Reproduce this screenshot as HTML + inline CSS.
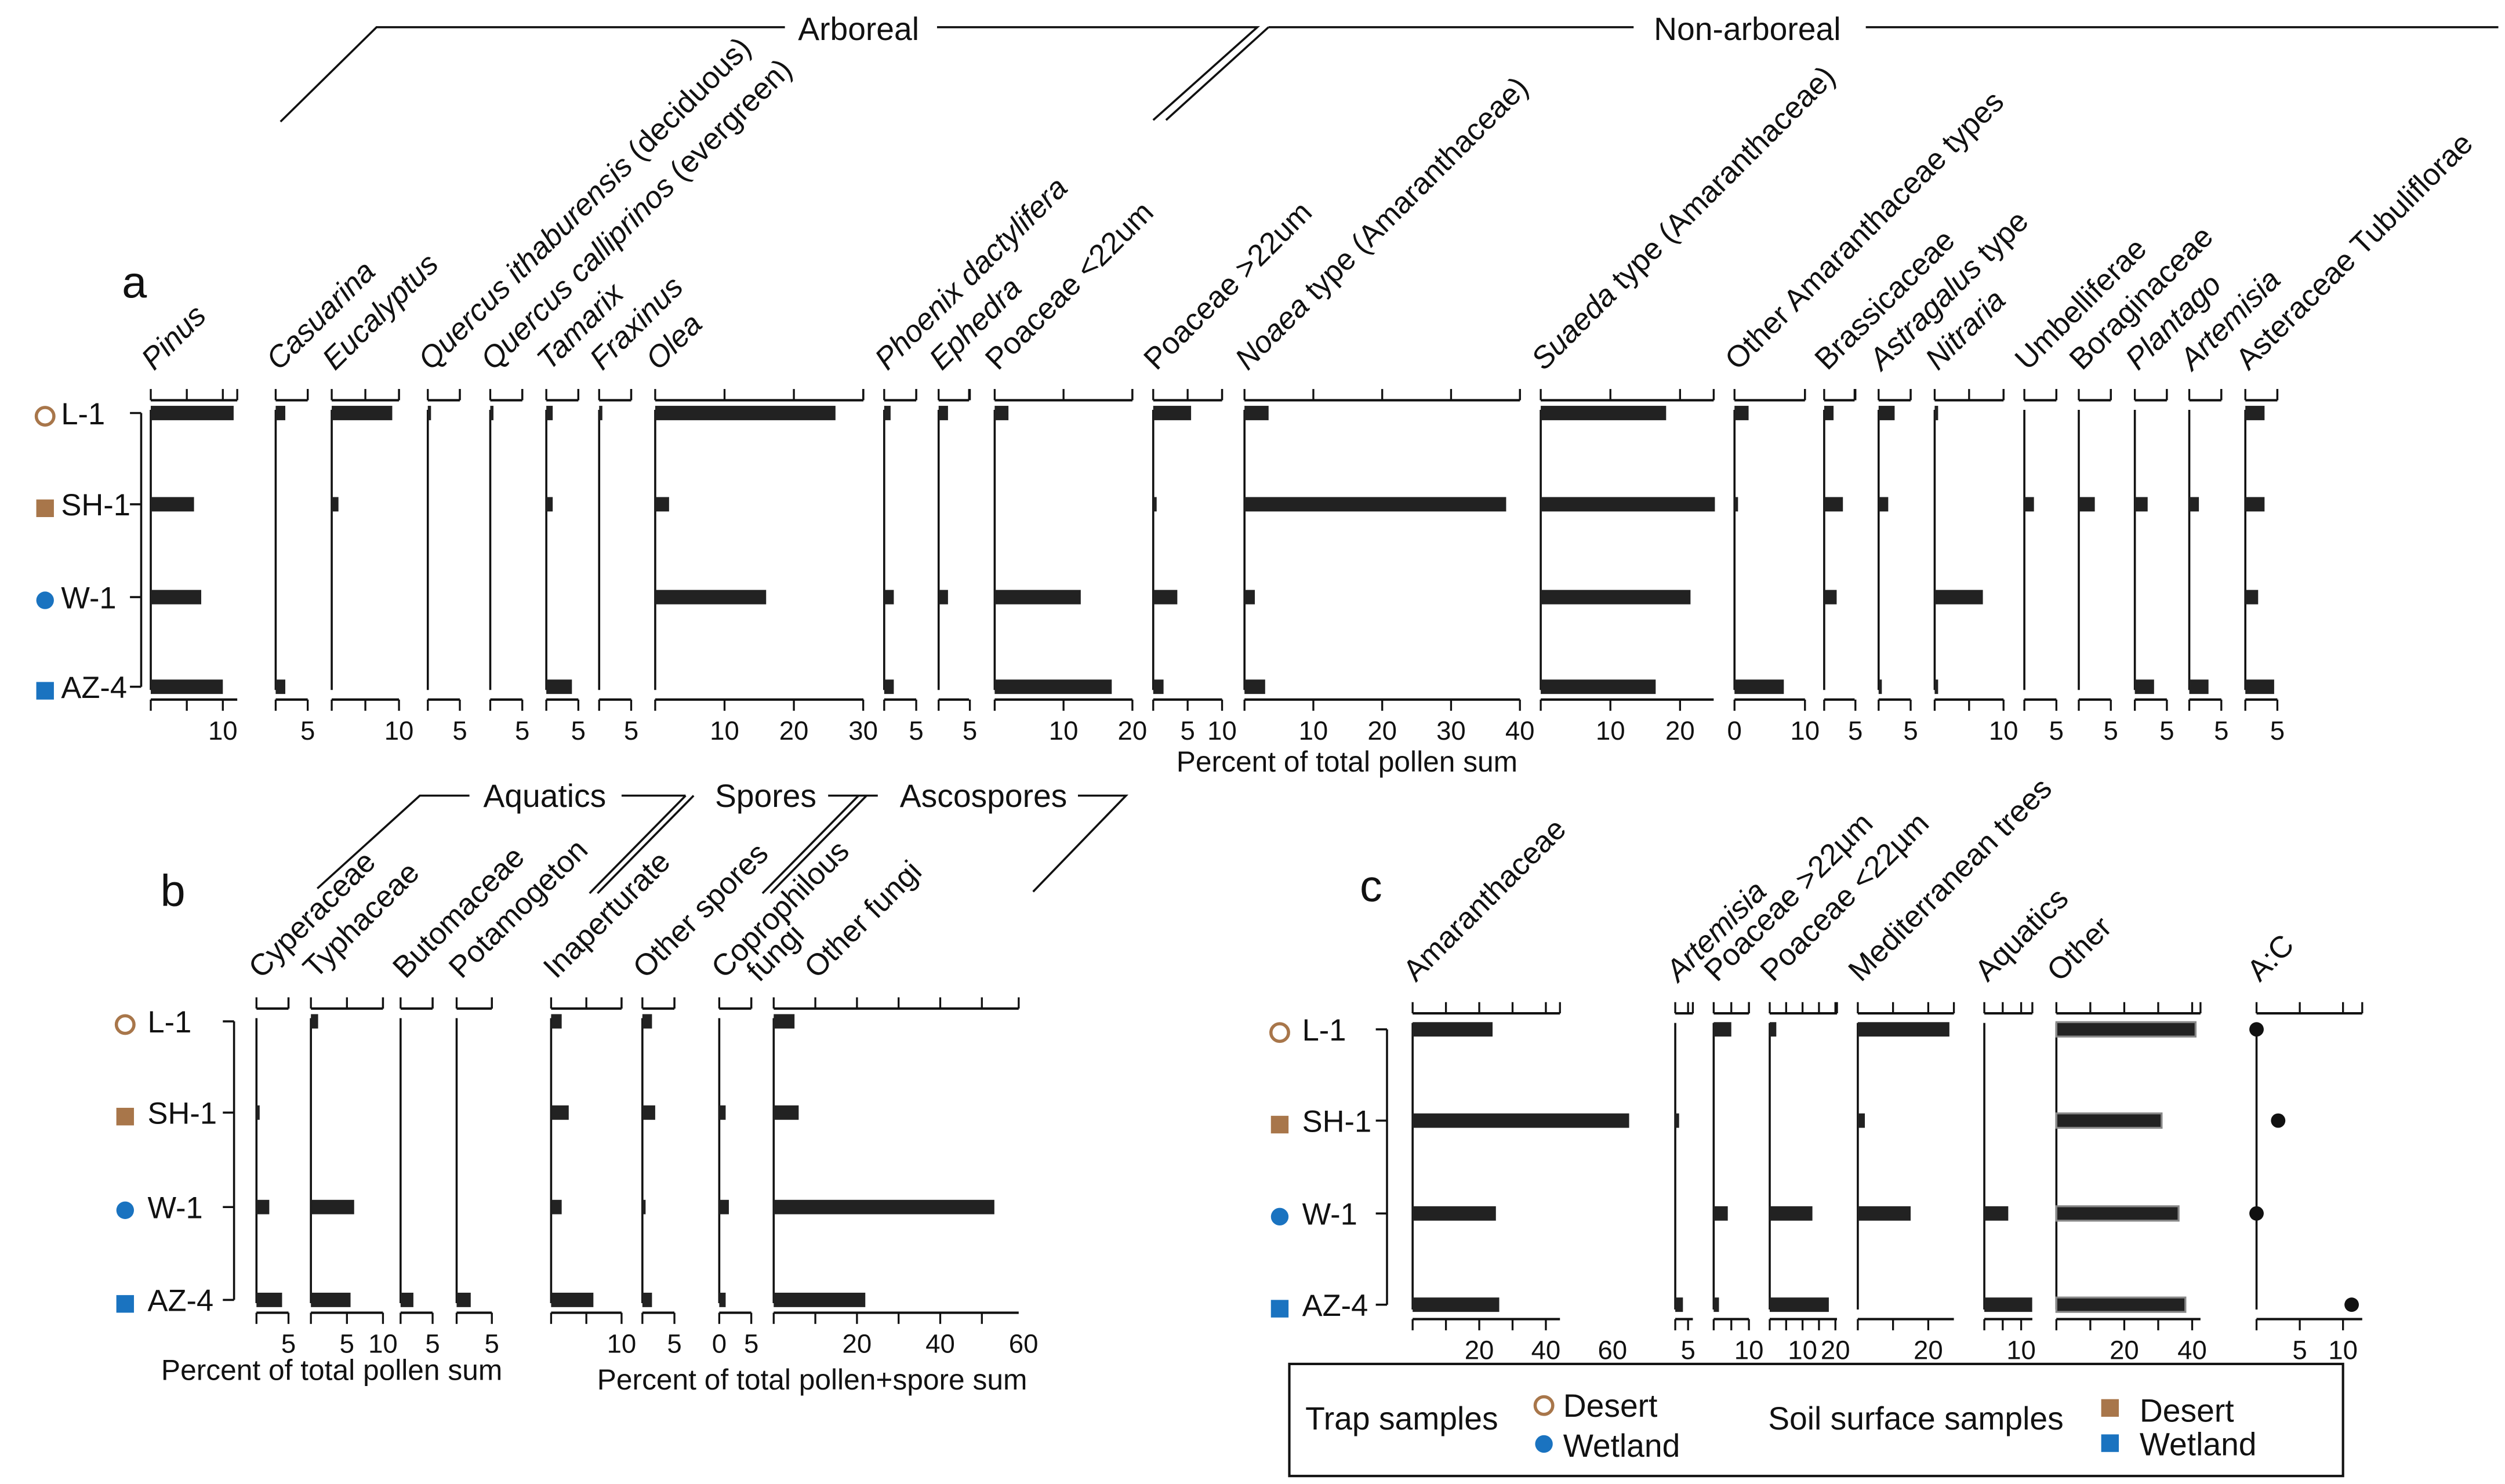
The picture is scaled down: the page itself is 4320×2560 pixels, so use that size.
<!DOCTYPE html>
<html><head><meta charset="utf-8"><style>
html,body{margin:0;padding:0;background:#fff}
svg{display:block}
text{font-family:"Liberation Sans",Arial,sans-serif;fill:#111}
</style></head><body>
<svg id="chart" xmlns="http://www.w3.org/2000/svg" width="4320" height="2560" viewBox="0 0 1564 927">
<g id="static" stroke="#111" stroke-width="1.3" fill="none">
<polyline points="175,76 235,17 490,17"/>
<polyline points="585,17 785,17 720,75"/>
<line x1="792" y1="17" x2="728" y2="75"/>
<polyline points="792,17 1020,17"/>
<line x1="1165" y1="17" x2="1560" y2="17"/>
<polyline points="198,555 262,497 293,497"/>
<line x1="388" y1="497" x2="428" y2="497"/>
<line x1="517" y1="497" x2="548" y2="497"/>
<line x1="368" y1="558" x2="428" y2="497"/><line x1="373" y1="558" x2="433" y2="497"/>
<line x1="476" y1="558" x2="536" y2="497"/><line x1="481" y1="558" x2="541" y2="497"/>
<polyline points="673,497 703,497 645,557"/>
<rect x="805" y="852" width="658" height="70" stroke-width="1.5"/>
</g>
<g>
<text x="536" y="25" font-size="20" text-anchor="middle">Arboreal</text>
<text x="1091" y="25" font-size="20" text-anchor="middle">Non-arboreal</text>
<text x="340" y="504" font-size="20" text-anchor="middle">Aquatics</text>
<text x="478" y="504" font-size="20" text-anchor="middle">Spores</text>
<text x="614" y="504" font-size="20" text-anchor="middle">Ascospores</text>
<text x="76" y="186" font-size="28">a</text>
<text x="100" y="566" font-size="28">b</text>
<text x="849" y="563" font-size="28">c</text>
<text x="841" y="482" font-size="18" text-anchor="middle">Percent of total pollen sum</text>
<text x="207" y="862" font-size="18" text-anchor="middle">Percent of total pollen sum</text>
<text x="507" y="868" font-size="18" text-anchor="middle">Percent of total pollen+spore sum</text>
</g>
<g>
<text x="815" y="893" font-size="20">Trap samples</text>
<circle cx="964" cy="878" r="5.5" fill="none" stroke="#a8764a" stroke-width="2"/>
<text x="976" y="885" font-size="20">Desert</text>
<circle cx="964" cy="902" r="5.5" fill="#1a73c0"/>
<text x="976" y="910" font-size="20">Wetland</text>
<text x="1104" y="893" font-size="20">Soil surface samples</text>
<rect x="1312" y="874" width="11" height="11" fill="#a8764a"/>
<text x="1336" y="888" font-size="20">Desert</text>
<rect x="1312" y="896" width="11" height="11" fill="#1a73c0"/>
<text x="1336" y="909" font-size="20">Wetland</text>
</g>
<g id="dyn"></g>
</svg>
<script>
const samples = ["L-1","SH-1","W-1","AZ-4"];
// Panel a
const aTaxa = ["Pinus","Casuarina","Eucalyptus","Quercus ithaburensis (deciduous)","Quercus calliprinos (evergreen)","Tamarix","Fraxinus","Olea","Phoenix dactylifera","Ephedra","Poaceae <22um","Poaceae >22um","Noaea type (Amaranthaceae)","Suaeda type (Amaranthaceae)","Other Amaranthaceae types","Brassicaceae","Astragalus type","Nitraria","Umbelliferae","Boraginaceae","Plantago","Artemisia","Asteraceae Tubuliflorae"];
const aL1 = [11.5,1.5,9,0.5,0.5,1,0.5,26,1,1.5,2,5.5,3.5,18,2,1.5,2.5,0.5,0,0,0,0,3];
const aSH1 = [6,0,1,0,0,1,0,2,0,0,0,0.5,38,25,0.5,3,1.5,0,1.5,2.5,2,1.5,3];
const aW1 = [7,0,0,0,0,0,0,16,1.5,1.5,12.5,3.5,1.5,21.5,0,2,0,7,0,0,0,0,2];
const aAZ4 = [10,1.5,0,0,0,4,0,0,1.5,0,17,1.5,3,16.5,7,0,0.5,0.5,0,0,3,3,4.5];
const aTickLabels = [[10],[5],[10],[5],[5],[5],[5],[10,20,30],[5],[5],[10,20],[5,10],[10,20,30,40],[10,20],[0,10],[5],[5],[10],[5],[5],[5],[5],[5]];
// Panel b
const bTaxa = ["Cyperaceae","Typhaceae","Butomaceae","Potamogeton","Inaperturate","Other spores","Coprophilous|fungi","Other fungi"];
const bL1 = [0,1,0,0,1.5,1.5,0,5];
const bSH1 = [0.5,0,0,0,2.5,2,1,6];
const bW1 = [2,6,0,0,1.5,0.5,1.5,53];
const bAZ4 = [4,5.5,2,2,6,1.5,1,22];
const bTickLabels = [[5],[5,10],[5],[5],[10],[5],[0,5],[20,40,60]];
// Panel c
const cTaxa = ["Amaranthaceae","Artemisia","Poaceae  >22µm","Poaceae <22µm","Mediterranean trees","Aquatics","Other","A:C"];
const cL1 = [24,0,5,2,26,0,41,0];
const cSH1 = [65,1.5,0,0,2,0,31,2.5];
const cW1 = [25,0,4,13,15,6.5,36,0];
const cAZ4 = [26,3,1.5,18,0,13,38,11];
const cTickLabels = [[20,40,60],[5],[10],[10,20],[20],[10],[20,40],[5,10]];

// layout / styling (not data)
const aItal=[5,9,10,20,19,7,8,4,19,7,0,0,5,6,0,0,10,8,0,0,8,9,0];
const bItal=[0,0,0,0,0,0,0,0];
const cItal=[0,9,0,0,0,0,0,0];
const aLayout={x0:[94,172,207,267,306,341,374,409,552,586,621,720,777,962,1083,1139,1173,1208,1264,1298,1333,1367,1402],
 k:[4.5,4,4.2,4,4,4,4,4.33,4,3.9,4.3,4.3,4.3,4.35,4.4,3.9,4,4.3,4,4,4,4,4],
 w:[54,20,42,20,20,20,20,130,20,19,86,43,172,108,44,19,20,43,20,20,20,20,20],
 minor:[5,0,5,0,0,0,0,0,0,0,0,0,0,0,0,0,0,5,0,0,0,0,0],
 lx:[2,2,2,2,2,2,2,2,2,2,2,2,2,2,2,2,2,2,2,2,2,2,2],
 rows:[258,315,373,429], top:250, bot:437, lab:232, tickY:462};
const bLayout={x0:[160,194,250,285,344,401,449,483], k:[4,4.5,4,4.4,4.4,4,4,2.6], w:[20,45,20,22,44,20,20,153],
 minor:[0,0,0,0,5,0,0,10], lx:[3,3,3,3,3,2,3,27], rows:[638,695,754,812], top:630, bot:820, lab:612, tickY:845};
const cLayout={x0:[882,1046,1070,1105,1160,1239,1284,1409], k:[2.08,1.6,2.2,2.05,2.2,2.3,2.12,5.4], w:[92,11,22,42,60,30,90,66],
 minor:[10,0,5,5,10,5,10,0], lx:[2,2,2,2,2,2,2,2], rows:[643,700,758,815], top:633, bot:824, lab:614, tickY:849};

const NS="http://www.w3.org/2000/svg";
const dyn=document.getElementById('dyn');
function mk(tag,attrs,parent){const e=document.createElementNS(NS,tag);for(const a in attrs)e.setAttribute(a,attrs[a]);(parent||dyn).appendChild(e);return e;}
function xs(L,i,v){return L.x0[i]+v*L.k[i];}

function panel(name,L,taxa,ital,series,tickLabels,dotLast,greyIdx){
  const g=mk('g',{});
  
  
  taxa.forEach((t,i)=>{
    const x0=L.x0[i], x1=x0+L.w[i];
    const cg=mk('g',{},g);
    
    
    mk('line',{x1:x0,y1:L.top,x2:x1,y2:L.top,stroke:'#111','stroke-width':1.5},cg);
    mk('line',{x1:x0,y1:L.bot,x2:x1,y2:L.bot,stroke:'#111','stroke-width':1.5},cg);
    mk('line',{x1:x0,y1:L.top+6,x2:x0,y2:L.bot-6,stroke:'#111','stroke-width':1.3},cg);
    const ticks=[0];
    if(L.minor[i]>0){for(let v=L.minor[i];xs(L,i,v)<=x1+0.5;v+=L.minor[i])ticks.push(v);}
    tickLabels[i].forEach(v=>{if(ticks.indexOf(v)<0)ticks.push(v);});
    ticks.forEach(v=>{const x=xs(L,i,v); if(x>x1+1)return;
      mk('line',{x1:x,y1:L.top,x2:x,y2:L.top-7,stroke:'#111','stroke-width':1.2},cg);
      mk('line',{x1:x,y1:L.bot,x2:x,y2:L.bot+7,stroke:'#111','stroke-width':1.2},cg);});
    mk('line',{x1:x1,y1:L.top,x2:x1,y2:L.top-7,stroke:'#111','stroke-width':1.2},cg);
    tickLabels[i].forEach(v=>{const tx=mk('text',{x:xs(L,i,v),y:L.tickY,'font-size':16.5,'text-anchor':'middle'},cg);tx.textContent=v;
      
      });
    const lx=x0+L.lx[i];
    const lab=mk('text',{x:lx,y:L.lab,'font-size':19,transform:'rotate(-45 '+lx+' '+L.lab+')'},cg);
    
    
    const parts=t.split('|');
    if(parts.length>1){
      const s1=mk('tspan',{x:lx},lab);s1.textContent=parts[0];
      const s2=mk('tspan',{x:lx+14,dy:17},lab);s2.textContent=parts[1];
    } else {
      const n=ital[i];
      if(n>0){const s=mk('tspan',{'font-style':'italic'},lab);s.textContent=t.slice(0,n);}
      if(n<t.length){const s=mk('tspan',{},lab);s.textContent=t.slice(n);}
    }
    series.forEach((s,r)=>{const v=s[i];const y=L.rows[r];
      if(dotLast&&i===taxa.length-1){const c=mk('circle',{cx:xs(L,i,v),cy:y,r:4.5,fill:'#111'},cg);
        
        return;}
      if(v<=0)return;
      const b=mk('rect',{x:x0,y:y-4.5,width:v*L.k[i],height:9,fill:'#222'},cg);
      if(greyIdx===i){b.setAttribute('stroke','#888');b.setAttribute('stroke-width','1.2');}
      
      });
  });
}
panel('panel-a',aLayout,aTaxa,aItal,[aL1,aSH1,aW1,aAZ4],aTickLabels,false,-1);
panel('panel-b',bLayout,bTaxa,bItal,[bL1,bSH1,bW1,bAZ4],bTickLabels,false,-1);
panel('panel-c',cLayout,cTaxa,cItal,[cL1,cSH1,cW1,cAZ4],cTickLabels,true,6);

function sampleAxis(name,ax,rows,labX,symX){
  const g=mk('g',{});
  
  
  mk('line',{x1:ax,y1:rows[0],x2:ax,y2:rows[3],stroke:'#111','stroke-width':1.3},g);
  samples.forEach((s,r)=>{const y=rows[r];
    mk('line',{x1:ax-7,y1:y,x2:ax,y2:y,stroke:'#111','stroke-width':1.3},g);
    const t=mk('text',{x:labX,y:y+7,'font-size':19},g);t.textContent=s;
    
    
    let sh;
    if(r===0)sh=mk('circle',{cx:symX,cy:y+2,r:5.5,fill:'none',stroke:'#a8764a','stroke-width':2},g);
    else if(r===1)sh=mk('rect',{x:symX-5.5,y:y-3,width:11,height:11,fill:'#a8764a'},g);
    else if(r===2)sh=mk('circle',{cx:symX,cy:y+2,r:5.5,fill:'#1a73c0'},g);
    else sh=mk('rect',{x:symX-5.5,y:y-3,width:11,height:11,fill:'#1a73c0'},g);
    
    });
}
sampleAxis('samples-a',88,aLayout.rows,38,28);
sampleAxis('samples-b',146,bLayout.rows,92,78);
sampleAxis('samples-c',866,cLayout.rows,813,799);
</script>
</body></html>
